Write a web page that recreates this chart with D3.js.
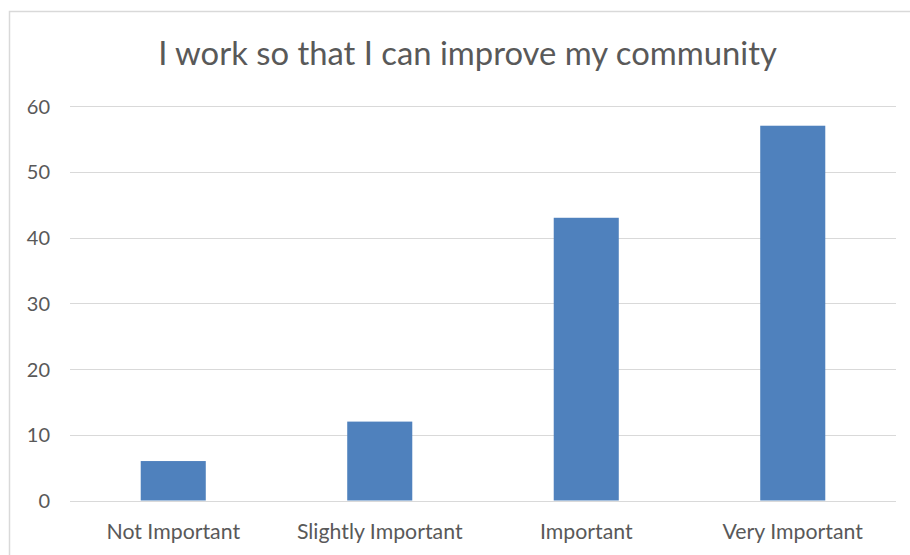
<!DOCTYPE html>
<html><head><meta charset="utf-8">
<script src="https://cdn.jsdelivr.net/npm/d3@7"></script>
<style>body{margin:0;background:#fff}</style>
</head><body>
<svg id="c" width="910" height="555"></svg>
<script>
const title = "I work so that I can improve my community";
const categories = ["Not Important", "Slightly Important", "Important", "Very Important"];
const values = [6, 12, 43, 57];
const yTicks = [0, 10, 20, 30, 40, 50, 60];

const svg = d3.select("#c");
const font = "Lato, 'Open Sans', sans-serif";
const textColor = "#595959";
const gridColor = "#d9d9d9";

// chart border
svg.append("rect").attr("x", 9.5).attr("y", 11.5).attr("width", 920).attr("height", 560)
  .attr("fill", "#fff").attr("stroke", gridColor).attr("stroke-width", 1.5);

const x = d3.scaleBand().domain(categories).range([70, 896]).paddingInner(0.685).paddingOuter(0.3425);
const y = d3.scaleLinear().domain([0, 60]).range([500.5, 106]);

// gridlines
svg.append("g").selectAll("line").data(yTicks).join("line")
  .attr("x1", 70).attr("x2", 896)
  .attr("y1", d => Math.round(y(d)) + 0.5).attr("y2", d => Math.round(y(d)) + 0.5)
  .attr("stroke", gridColor).attr("stroke-width", 1);

// y axis labels
const yAxis = d3.axisLeft(y).tickValues(yTicks).tickSize(0).tickPadding(0);
const gy = svg.append("g").attr("transform", "translate(50,0)").call(yAxis);
gy.select(".domain").remove();
gy.selectAll("text").attr("font-family", font).attr("font-size", 20).attr("fill", textColor).attr("dy", "0.35em");

// bars
svg.append("g").selectAll("rect").data(values).join("rect")
  .attr("x", (d, i) => x(categories[i]))
  .attr("width", x.bandwidth())
  .attr("y", d => y(d))
  .attr("height", d => y(0) - y(d))
  .attr("fill", "#4f81bd");

// x axis labels
const xAxis = d3.axisBottom(x).tickSize(0).tickPadding(0);
const gx = svg.append("g").attr("transform", "translate(0,539)").call(xAxis);
gx.select(".domain").remove();
gx.selectAll("text").attr("font-family", font).attr("font-size", 21.3).attr("fill", textColor).attr("dy", 0);

// title
svg.append("text").attr("x", 467.5).attr("y", 65).attr("text-anchor", "middle")
  .attr("font-family", font).attr("font-size", 32.8).attr("fill", textColor).text(title);
</script>
</body></html>
